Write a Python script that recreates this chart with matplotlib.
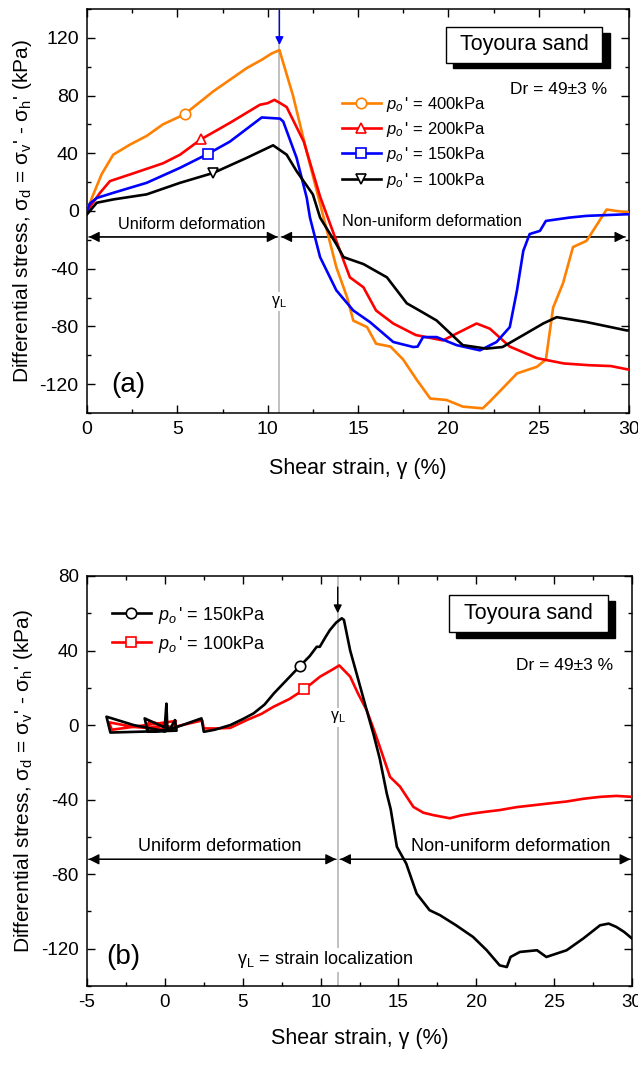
import numpy as np
import matplotlib
matplotlib.use("Agg")
import matplotlib.pyplot as plt
from matplotlib.patches import Rectangle
from matplotlib.lines import Line2D
from matplotlib.ticker import MultipleLocator

plt.rcParams['font.family'] = ['Liberation Sans', 'DejaVu Sans']
plt.rcParams['mathtext.fontset'] = 'custom'
plt.rcParams['mathtext.rm'] = 'Liberation Sans'
plt.rcParams['mathtext.it'] = 'Liberation Sans:italic'
plt.rcParams['axes.unicode_minus'] = False

# ---------------- (a) monotonic tests ----------------
o400_x = [0, 0.3, 0.81, 1.45, 2.38, 3.3, 4.2, 5.4, 7.0, 8.84, 9.7, 10.2, 10.65, 11.4, 12.16, 12.9,
          13.8, 14.4, 14.74, 15.5, 16.0, 16.8, 17.5, 18.25, 19.0, 19.9, 20.8, 21.9, 22.3, 23.0,
          23.8, 24.9, 25.4, 25.8, 26.35, 26.9, 27.65, 28.2, 28.76, 29.3, 30.0]
o400_y = [0, 10, 25.5, 39, 46, 52, 60, 67, 83, 99, 105, 109, 111.5, 80, 41, 5,
          -39, -60, -76, -80.5, -92, -94, -103, -117, -130, -131, -135.6, -136.8, -132, -123,
          -112.6, -108, -103, -67, -50, -25, -20.7, -10, 1, 0, -1]

r200_x = [0, 0.72, 1.27, 2.38, 4.2, 5.15, 6.3, 7.9, 9.57, 10.0, 10.37, 10.7, 11.05, 12.0, 12.9,
          14.0, 14.55, 15.3, 16.0, 16.95, 18.2, 19.7, 20.8, 21.56, 22.3, 23.4, 24.9, 26.4, 27.8,
          29.0, 30.0]
r200_y = [0, 12.6, 20.7, 25.3, 33, 39, 49.6, 61, 73.6, 74.7, 77, 74.7, 72, 48, 10,
          -27.6, -46, -52.9, -69, -78, -86, -89.7, -82.8, -78, -81.6, -94, -102, -105.7, -106.9,
          -107.5, -110]

b150_x = [0, 0.15, 0.54, 1.46, 3.3, 5.15, 6.68, 7.9, 9.67, 10.68, 10.86, 11.6, 12.16, 12.34, 12.9,
          13.8, 14.74, 15.66, 16.95, 18.06, 18.3, 18.6, 19.35, 20.46, 21.75, 22.67, 23.4, 23.8,
          24.15, 24.5, 25.07, 25.4, 26.7, 27.65, 29.87, 30.0]
b150_y = [0, 5, 9, 12.6, 19.5, 29.9, 39.5, 48, 64.8, 64, 62, 36.8, 9.2, -4.6, -32,
          -55, -69, -77, -90.8, -94.3, -94, -87.4, -87.4, -93, -96.6, -90.8, -80.5, -55,
          -27.6, -16, -13.8, -6.9, -4.6, -3.4, -2.3, -2.3]

k100_x = [0, 0.54, 1.46, 3.3, 5.15, 7.0, 8.84, 10.3, 11.05, 11.6, 12.5, 12.9, 13.8, 14.2, 15.3,
          16.6, 17.7, 18.4, 19.35, 20.8, 22.1, 23.0, 24.15, 25.25, 26.0, 27.65, 29.87, 30.0]
k100_y = [-2.3, 5.7, 8, 11.5, 19.5, 26.4, 36.8, 45.5, 39, 27.6, 11.5, -4.6, -23, -32, -36.8,
          -46, -64, -69, -75.9, -93, -95.4, -94.3, -86, -78, -73.6, -77, -82.8, -82.8]

a_labels = ["400kPa", "200kPa", "150kPa", "100kPa"]
a_marker_x = [5.4, 6.3, 6.68, 7.0]
gamma_L_a = 10.65

# ---------------- (b) cyclic pre-loading then monotonic ----------------
c150_x = [0.0, 0.1, 0.15, 0.2, -1.1, -1.3, 0.3, 0.65, 0.75, -3.5, -3.75, -2.0, 0.0, 2.35, 2.5,
          3.2, 4.2, 5.0, 5.7, 6.4, 7.0, 7.8, 8.68, 9.3, 9.75, 9.95, 10.3, 10.6, 11.0, 11.36,
          11.5, 11.9, 12.4, 12.96, 13.4, 13.8, 14.25, 14.5, 14.9, 15.5, 16.17, 17.0, 17.67,
          18.7, 19.8, 20.67, 21.5, 21.96, 22.2, 22.8, 23.9, 24.5, 25.8, 26.87, 27.95, 28.5,
          29.0, 29.5, 30.0]
c150_y = [0, 11.5, 0, -3, -3.4, 3.6, -2.5, 2.7, -3, -4, 4.5, 0, -3.3, 3.6, -3.6,
          -2.5, 0, 3.2, 6.3, 11, 17, 24, 31.7, 37, 42, 42, 47, 51, 55, 57.3,
          56.4, 40, 25, 8, -5, -18, -36.7, -45, -65.3, -74.3, -90.4, -99.3, -102,
          -107.4, -113.7, -120.8, -128.9, -129.8, -124.4, -121.7, -120.8, -124.4, -120.8,
          -114.5, -107.4, -106.5, -108.3, -111, -114.5]

c100_x = [0, -1.2, -1.0, 0.6, 0.7, -3.4, -3.6, -2.0, 0.0, 2.4, 2.5, 3.3, 4.2, 5.26, 6.2, 6.97,
          8.0, 8.94, 9.97, 10.6, 11.2, 11.9, 12.4, 12.96, 13.4, 13.8, 14.46, 15.1, 15.96, 16.6,
          17.24, 18.3, 19.0, 19.8, 20.6, 21.5, 22.6, 23.67, 24.7, 25.8, 26.9, 27.95, 29.0, 30.0]
c100_y = [0, -1.8, 2, -1.5, 2.2, -2.5, 1.5, -1, -2.2, 2.5, -1.8, -1.8, -1.5, 2.7, 6, 9.8,
          14, 19.1, 26, 29, 32, 26, 17, 8, -2, -11.6, -27.8, -33, -43.9, -47,
          -48.3, -50, -48.5, -47.4, -46.5, -45.6, -44, -43, -42, -41, -39.5, -38.5, -38, -38.5]

b_labels = ["150kPa", "100kPa"]
b_marker_x = [8.68, 8.94]
gamma_L_b = 11.1

ORANGE = "#FF8000"
RED = "#FF0000"
BLUE = "#0000FF"
BLACK = "#000000"
GREY = "#BBBBBB"

fig = plt.figure(figsize=(6.38, 10.66), dpi=100)
ax1 = fig.add_axes([0.1364, 0.6126, 0.8495, 0.3790])
ax2 = fig.add_axes([0.1364, 0.0750, 0.8542, 0.3847])


def style_axes(ax, fs):
    for s in ax.spines.values():
        s.set_linewidth(1.1)
    ax.tick_params(which='both', direction='in', top=True, right=True, labelsize=fs, width=1.0)
    ax.tick_params(which='major', length=6)
    ax.tick_params(which='minor', length=3)
    ax.tick_params(axis='y', pad=6)
    ax.tick_params(axis='x', pad=6)


def place_marker(ax, xs, ys, mx, color, marker):
    # open symbol on the sample point nearest to the given strain
    idx = int(np.argmin(np.abs(np.asarray(xs) - mx)))
    ax.plot([xs[idx]], [ys[idx]], linestyle='none', marker=marker, ms=7.5,
            mfc='white', mec=color, mew=1.2, zorder=4)


def shadow_box(ax, x0, y0, x1, y1, dx, dy, label, fs):
    ax.add_patch(Rectangle((x0 + dx, y0 - dy), x1 - x0, y1 - y0, transform=ax.transAxes,
                           facecolor='black', edgecolor='black', zorder=5, clip_on=False))
    ax.add_patch(Rectangle((x0, y0), x1 - x0, y1 - y0, transform=ax.transAxes,
                           facecolor='white', edgecolor='black', lw=1.0, zorder=6, clip_on=False))
    ax.text((x0 + x1) / 2, (y0 + y1) / 2, label, transform=ax.transAxes, ha='center',
            va='center', fontsize=fs, zorder=7)


def double_arrow(ax, x0, x1, y):
    ax.annotate("", xy=(x1, y), xytext=(x0, y),
                arrowprops=dict(arrowstyle='-|>', color='black', lw=0.9,
                                mutation_scale=16, shrinkA=0, shrinkB=0), zorder=2)
    ax.annotate("", xy=(x0, y), xytext=(x1, y),
                arrowprops=dict(arrowstyle='-|>', color='black', lw=0.9,
                                mutation_scale=16, shrinkA=0, shrinkB=0), zorder=2)


# ---------------- panel (a) ----------------
style_axes(ax1, 14)
ax1.set_xlim(0, 30)
ax1.set_ylim(-140, 140)
ax1.xaxis.set_major_locator(MultipleLocator(5))
ax1.xaxis.set_minor_locator(MultipleLocator(2.5))
ax1.yaxis.set_major_locator(MultipleLocator(40))
ax1.yaxis.set_minor_locator(MultipleLocator(20))

ax1.axvline(gamma_L_a, color=GREY, lw=1.3, zorder=1)

series_a = [(o400_x, o400_y, ORANGE, 'o'), (r200_x, r200_y, RED, '^'),
            (b150_x, b150_y, BLUE, 's'), (k100_x, k100_y, BLACK, 'v')]
handles_a = []
for (xs, ys, c, m), mx, lab in zip(series_a, a_marker_x, a_labels):
    ax1.plot(xs, ys, color=c, lw=1.9, zorder=3)
    place_marker(ax1, xs, ys, mx, c, m)
    handles_a.append(Line2D([], [], color=c, lw=1.9, marker=m, ms=7.5, mfc='white',
                            mec=c, mew=1.2, label=r"$p_o\,$' = " + lab))

double_arrow(ax1, 0.1, gamma_L_a - 0.1, -18)
double_arrow(ax1, gamma_L_a + 0.1, 29.8, -18)
ax1.text(5.8, -9.5, "Uniform deformation", ha='center', va='center', fontsize=11.7, zorder=2)
ax1.text(19.1, -7.6, "Non-uniform deformation", ha='center', va='center', fontsize=11.7, zorder=2)
ax1.text(gamma_L_a, -63, r"γ$_{\rm L}$", ha='center', va='center', fontsize=11.5, zorder=2,
         bbox=dict(facecolor='white', edgecolor='none', pad=1))
ax1.text(2.3, -120.5, "(a)", ha='center', va='center', fontsize=20)
ax1.annotate("", xy=(gamma_L_a, 115), xytext=(gamma_L_a, 139),
             arrowprops=dict(arrowstyle='-|>', color=BLUE, lw=1.0, mutation_scale=12,
                             shrinkA=0, shrinkB=0), annotation_clip=False, zorder=5)

shadow_box(ax1, 0.662, 0.867, 0.951, 0.9547, 0.0135, 0.0139, "Toyoura sand", 15.5)
ax1.text(28.8, 84, "Dr = 49±3 %", ha='right', va='center', fontsize=12.5)

ax1.legend(handles=handles_a, loc='upper left', bbox_to_anchor=(0.471, 0.788),
           frameon=False, fontsize=12, handlelength=2.3, handletextpad=0.3,
           labelspacing=0.38, borderpad=0, borderaxespad=0)

ax1.set_xlabel("Shear strain, γ (%)", fontsize=15.5, labelpad=14)
ax1.set_ylabel(r"Differential stress, σ$_{\rm d}$ = σ$_{\rm v}$' - σ$_{\rm h}$' (kPa)",
               fontsize=15, labelpad=4)

# ---------------- panel (b) ----------------
style_axes(ax2, 13.5)
ax2.set_xlim(-5, 30)
ax2.set_ylim(-140, 80)
ax2.xaxis.set_major_locator(MultipleLocator(5))
ax2.xaxis.set_minor_locator(MultipleLocator(2.5))
ax2.yaxis.set_major_locator(MultipleLocator(40))
ax2.yaxis.set_minor_locator(MultipleLocator(20))

ax2.axvline(gamma_L_b, color=GREY, lw=1.3, zorder=1)

series_b = [(c150_x, c150_y, BLACK, 'o'), (c100_x, c100_y, RED, 's')]
handles_b = []
for xs, ys, c, m in series_b[::-1]:
    ax2.plot(xs, ys, color=c, lw=1.9, zorder=3)
for (xs, ys, c, m), mx, lab in zip(series_b, b_marker_x, b_labels):
    place_marker(ax2, xs, ys, mx, c, m)
    handles_b.append(Line2D([], [], color=c, lw=1.9, marker=m, ms=7.5, mfc='white',
                            mec=c, mew=1.2, label=r"$p_o\,$' = " + lab))

double_arrow(ax2, -4.9, gamma_L_b - 0.1, -72)
double_arrow(ax2, gamma_L_b + 0.15, 29.9, -72)
ax2.text(3.55, -65, "Uniform deformation", ha='center', va='center', fontsize=13, zorder=2)
ax2.text(22.2, -65, "Non-uniform deformation", ha='center', va='center', fontsize=13, zorder=2)
ax2.text(gamma_L_b, 4.3, r"γ$_{\rm L}$", ha='center', va='center', fontsize=11.5, zorder=2,
         bbox=dict(facecolor='white', edgecolor='none', pad=1))
ax2.text(4.6, -126, r"γ$_{\rm L}$ = strain localization", ha='left', va='center',
         fontsize=13, zorder=2, bbox=dict(facecolor='white', edgecolor='none', pad=1))
ax2.text(-2.7, -124.6, "(b)", ha='center', va='center', fontsize=20)
ax2.annotate("", xy=(gamma_L_b, 60), xytext=(gamma_L_b, 74),
             arrowprops=dict(arrowstyle='-|>', color=BLACK, lw=1.0, mutation_scale=12,
                             shrinkA=0, shrinkB=0), zorder=5)

shadow_box(ax2, 0.664, 0.863, 0.956, 0.9537, 0.0128, 0.0146, "Toyoura sand", 15.5)
ax2.text(28.8, 31.7, "Dr = 49±3 %", ha='right', va='center', fontsize=12.5)

ax2.legend(handles=handles_b, loc='upper left', bbox_to_anchor=(0.045, 0.930),
           frameon=False, fontsize=13, handlelength=2.2, handletextpad=0.4,
           labelspacing=0.45, borderpad=0, borderaxespad=0)

ax2.set_xlabel("Shear strain, γ (%)", fontsize=15.5, labelpad=12)
ax2.set_ylabel(r"Differential stress, σ$_{\rm d}$ = σ$_{\rm v}$' - σ$_{\rm h}$' (kPa)",
               fontsize=15, labelpad=4)

fig.savefig("out.png", dpi=100)
